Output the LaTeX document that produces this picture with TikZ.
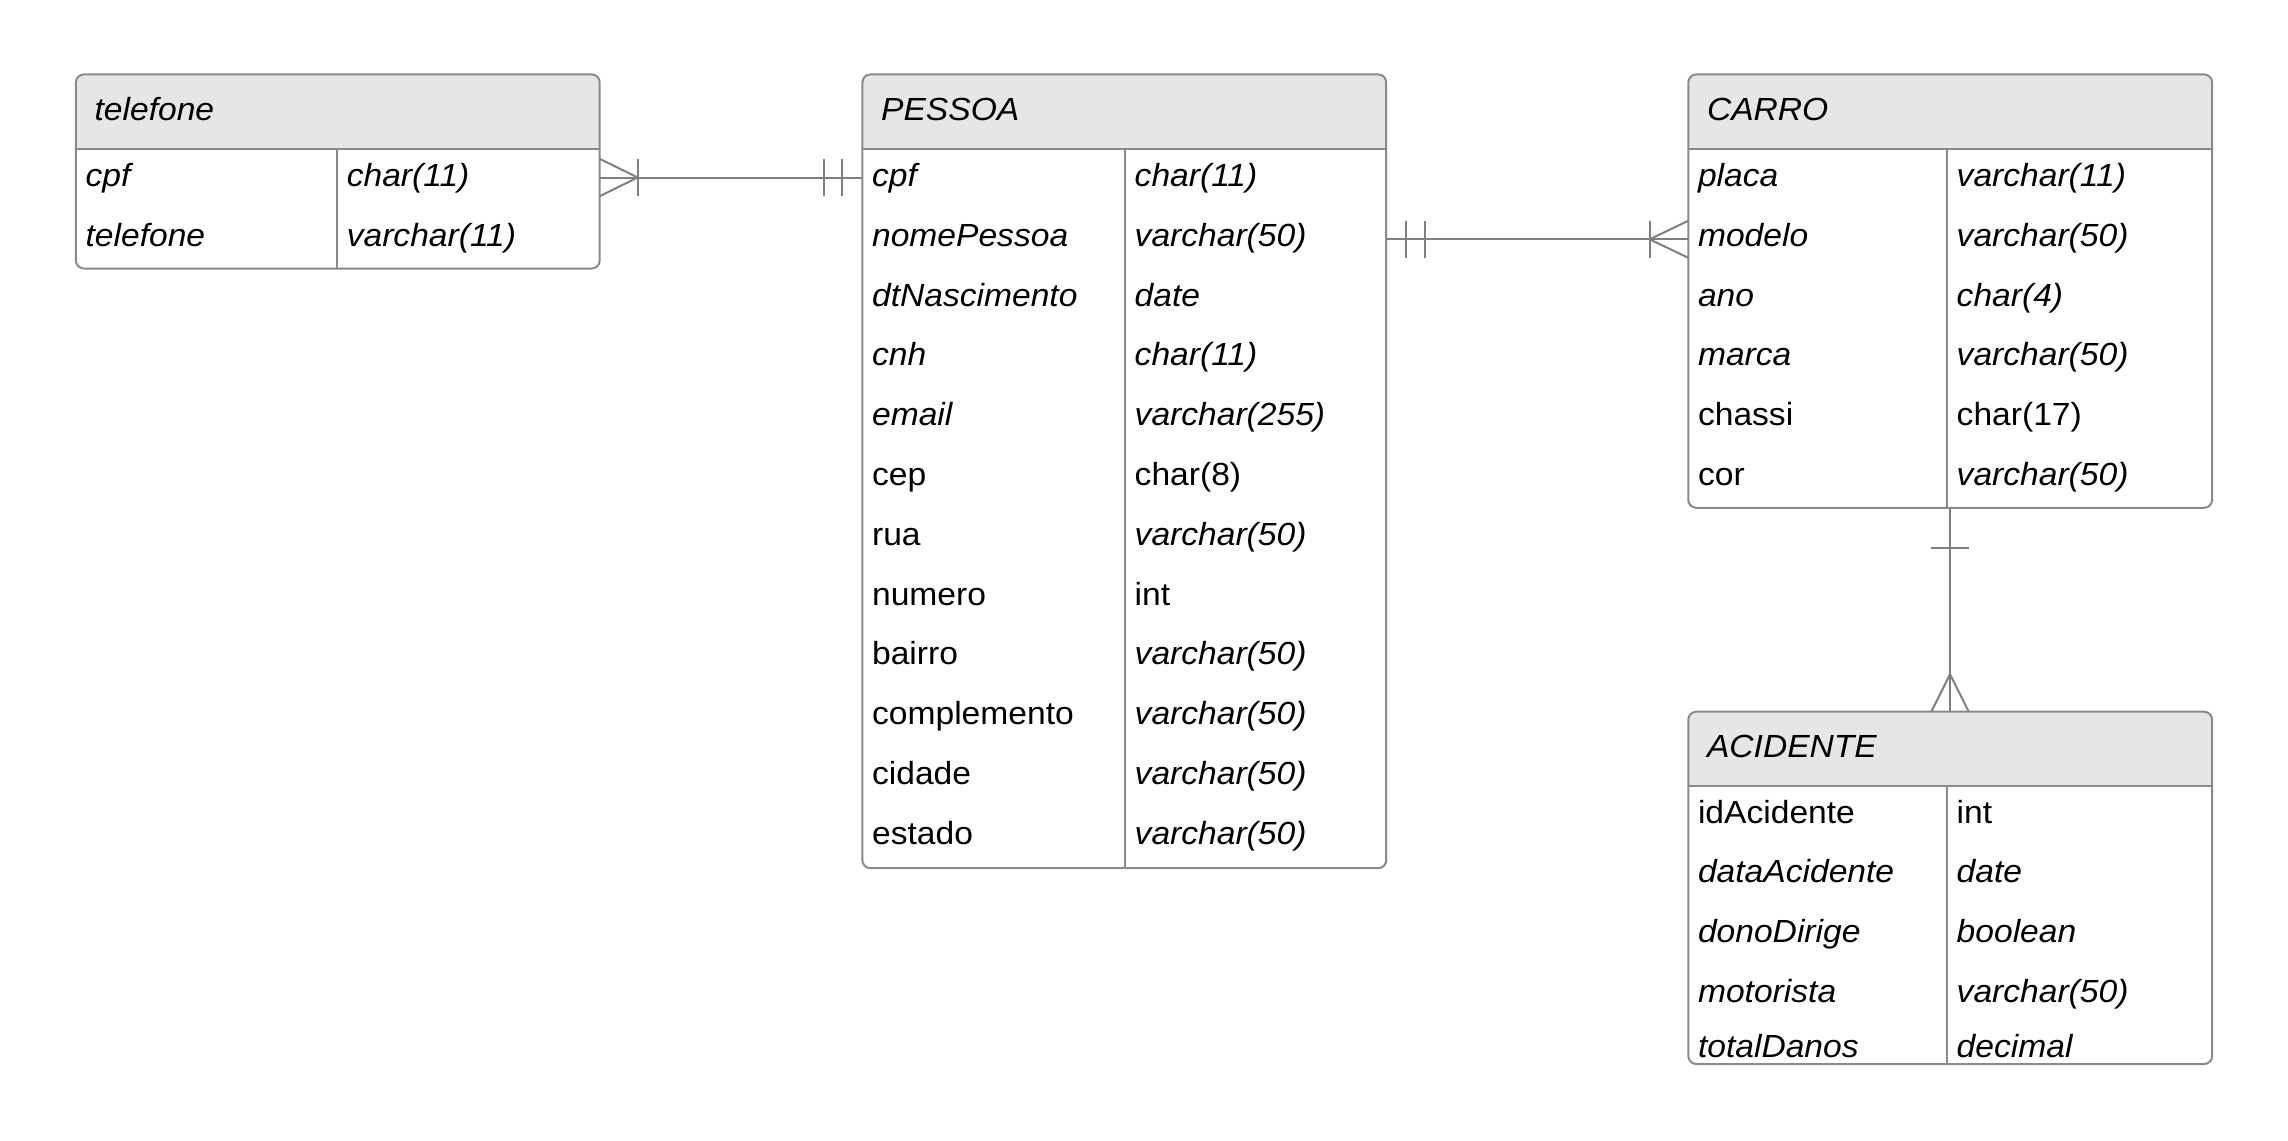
\documentclass[tikz,border=0pt]{standalone}
\usepackage{fontspec}
\setmainfont{Liberation Sans}[FakeStretch=1.05]
\usetikzlibrary{calc}
\definecolor{bordercol}{HTML}{8A8A8A}
\definecolor{hdrfill}{HTML}{E6E6E6}
\definecolor{linecol}{HTML}{808080}
\newcommand\fsz{\fontsize{32}{38}\selectfont}
\begin{document}
\begin{tikzpicture}[x=1pt,y=-1pt,
  tbl/.style={draw=bordercol, line width=2pt, rounded corners=8pt, rectangle,
    minimum width=523.8pt, anchor=north west, inner sep=0pt, outer sep=0pt},
  sepline/.style={draw=bordercol, line width=2pt},
  divline/.style={draw=bordercol, line width=1.6pt},
  up/.style={anchor=base west, inner sep=0pt, font=\fsz},
  it/.style={anchor=base west, inner sep=0pt, font=\fsz\itshape},
  conn/.style={draw=linecol, line width=2pt}]
\useasboundingbox (0,0) rectangle (2288,1140);
\fill[white] (0,0) rectangle (2288,1140);

% ---------- telefone ----------
\begin{scope}
  \clip[rounded corners=8pt] (75.9,74.4) rectangle (599.7,268.5);
  \fill[white] (75.9,74.4) rectangle (599.7,268.5);
  \fill[hdrfill] (75.9,74.4) rectangle (599.7,148.8);
\end{scope}
\node[tbl, minimum height=194.1pt] (telefone) at (75.9,74.4) {};
\draw[sepline] (telefone.west |- 0,148.8) -- (telefone.east |- 0,148.8);
\draw[divline] (337.1,148.8) -- (337.1,268.5);
\node[it] (tel-title) at (94.4,120) {telefone};
\node[it] (tel-n1) at (85.4,186.5) {cpf};
\node[it] (tel-t1) at (346.6,186.5) {char(11)};
\node[it] (tel-n2) at (85.4,246.3) {telefone};
\node[it] (tel-t2) at (346.6,246.3) {varchar(11)};

% ---------- PESSOA ----------
\begin{scope}
  \clip[rounded corners=8pt] (862.4,74.4) rectangle (1386.2,868.2);
  \fill[white] (862.4,74.4) rectangle (1386.2,868.2);
  \fill[hdrfill] (862.4,74.4) rectangle (1386.2,148.8);
\end{scope}
\node[tbl, minimum height=793.8pt] (pessoa) at (862.4,74.4) {};
\draw[sepline] (pessoa.west |- 0,148.8) -- (pessoa.east |- 0,148.8);
\draw[divline] (1125,148.8) -- (1125,868.2);
\node[it] (pes-title) at (880.9,120) {PESSOA};
\node[it] (pes-n1)  at (871.9,186.5) {cpf};
\node[it] (pes-t1)  at (1134.5,186.5) {char(11)};
\node[it] (pes-n2)  at (871.9,246.3) {nomePessoa};
\node[it] (pes-t2)  at (1134.5,246.3) {varchar(50)};
\node[it] (pes-n3)  at (871.9,306.1) {dtNascimento};
\node[it] (pes-t3)  at (1134.5,306.1) {date};
\node[it] (pes-n4)  at (871.9,365.9) {cnh};
\node[it] (pes-t4)  at (1134.5,365.9) {char(11)};
\node[it] (pes-n5)  at (871.9,425.7) {email};
\node[it] (pes-t5)  at (1134.5,425.7) {varchar(255)};
\node[up] (pes-n6)  at (871.9,485.5) {cep};
\node[up] (pes-t6)  at (1134.5,485.5) {char(8)};
\node[up] (pes-n7)  at (871.9,545.3) {rua};
\node[it] (pes-t7)  at (1134.5,545.3) {varchar(50)};
\node[up] (pes-n8)  at (871.9,605.1) {numero};
\node[up] (pes-t8)  at (1134.5,605.1) {int};
\node[up] (pes-n9)  at (871.9,664.9) {bairro};
\node[it] (pes-t9)  at (1134.5,664.9) {varchar(50)};
\node[up] (pes-n10) at (871.9,724.7) {complemento};
\node[it] (pes-t10) at (1134.5,724.7) {varchar(50)};
\node[up] (pes-n11) at (871.9,784.5) {cidade};
\node[it] (pes-t11) at (1134.5,784.5) {varchar(50)};
\node[up] (pes-n12) at (871.9,844.3) {estado};
\node[it] (pes-t12) at (1134.5,844.3) {varchar(50)};

% ---------- CARRO ----------
\begin{scope}
  \clip[rounded corners=8pt] (1688.3,74.4) rectangle (2212.1,507.8);
  \fill[white] (1688.3,74.4) rectangle (2212.1,507.8);
  \fill[hdrfill] (1688.3,74.4) rectangle (2212.1,148.8);
\end{scope}
\node[tbl, minimum height=433.4pt] (carro) at (1688.3,74.4) {};
\draw[sepline] (carro.west |- 0,148.8) -- (carro.east |- 0,148.8);
\draw[divline] (1947,148.8) -- (1947,507.8);
\node[it] (car-title) at (1706.8,120) {CARRO};
\node[it] (car-n1) at (1697.8,186.5) {placa};
\node[it] (car-t1) at (1956.5,186.5) {varchar(11)};
\node[it] (car-n2) at (1697.8,246.3) {modelo};
\node[it] (car-t2) at (1956.5,246.3) {varchar(50)};
\node[it] (car-n3) at (1697.8,306.1) {ano};
\node[it] (car-t3) at (1956.5,306.1) {char(4)};
\node[it] (car-n4) at (1697.8,365.9) {marca};
\node[it] (car-t4) at (1956.5,365.9) {varchar(50)};
\node[up] (car-n5) at (1697.8,425.7) {chassi};
\node[up] (car-t5) at (1956.5,425.7) {char(17)};
\node[up] (car-n6) at (1697.8,485.5) {cor};
\node[it] (car-t6) at (1956.5,485.5) {varchar(50)};

% ---------- ACIDENTE ----------
\begin{scope}
  \clip[rounded corners=8pt] (1688.3,711.7) rectangle (2212.1,1064);
  \fill[white] (1688.3,711.7) rectangle (2212.1,1064);
  \fill[hdrfill] (1688.3,711.7) rectangle (2212.1,786.1);
\end{scope}
\node[tbl, minimum height=352.3pt] (acidente) at (1688.3,711.7) {};
\draw[sepline] (acidente.west |- 0,786.1) -- (acidente.east |- 0,786.1);
\draw[divline] (1947,786.1) -- (1947,1064);
\node[it] (aci-title) at (1706.8,757.1) {ACIDENTE};
\node[up] (aci-n1) at (1697.8,823) {idAcidente};
\node[up] (aci-t1) at (1956.5,823) {int};
\node[it] (aci-n2) at (1697.8,882.8) {dataAcidente};
\node[it] (aci-t2) at (1956.5,882.8) {date};
\node[it] (aci-n3) at (1697.8,942.6) {donoDirige};
\node[it] (aci-t3) at (1956.5,942.6) {boolean};
\node[it] (aci-n4) at (1697.8,1002.4) {motorista};
\node[it] (aci-t4) at (1956.5,1002.4) {varchar(50)};
\node[it] (aci-n5) at (1697.8,1057) {totalDanos};
\node[it] (aci-t5) at (1956.5,1057) {decimal};

% ---------- connectors ----------
\coordinate (y1) at (0,177.5);
\coordinate (y2) at (0,239.3);
\coordinate (x3) at (1950,0);

% telefone (one or many) -- PESSOA (exactly one)
\draw[conn] (telefone.east |- y1) -- (pessoa.west |- y1);
\draw[conn] ($(telefone.east |- y1)+(0,-18.7)$) -- ($(telefone.east |- y1)+(38,0)$) -- ($(telefone.east |- y1)+(0,18.7)$);
\draw[conn] ($(telefone.east |- y1)+(38,-18.7)$) -- ($(telefone.east |- y1)+(38,18.7)$);
\draw[conn] ($(pessoa.west |- y1)+(-20,-18.7)$) -- ($(pessoa.west |- y1)+(-20,18.7)$);
\draw[conn] ($(pessoa.west |- y1)+(-38,-18.7)$) -- ($(pessoa.west |- y1)+(-38,18.7)$);

% PESSOA (exactly one) -- CARRO (one or many)
\draw[conn] (pessoa.east |- y2) -- (carro.west |- y2);
\draw[conn] ($(pessoa.east |- y2)+(20,-18.5)$) -- ($(pessoa.east |- y2)+(20,18.5)$);
\draw[conn] ($(pessoa.east |- y2)+(38.8,-18.5)$) -- ($(pessoa.east |- y2)+(38.8,18.5)$);
\draw[conn] ($(carro.west |- y2)+(0,-18.5)$) -- ($(carro.west |- y2)+(-38.8,0)$) -- ($(carro.west |- y2)+(0,18.5)$);
\draw[conn] ($(carro.west |- y2)+(-38.8,-18.5)$) -- ($(carro.west |- y2)+(-38.8,18.5)$);

% CARRO (one) -- ACIDENTE (many)
\draw[conn] (carro.south -| x3) -- (acidente.north -| x3);
\draw[conn] ($(carro.south -| x3)+(-18.7,40)$) -- ($(carro.south -| x3)+(18.7,40)$);
\draw[conn] ($(acidente.north -| x3)+(-18.7,0)$) -- ($(acidente.north -| x3)+(0,-37.5)$) -- ($(acidente.north -| x3)+(18.7,0)$);
\end{tikzpicture}
\end{document}
